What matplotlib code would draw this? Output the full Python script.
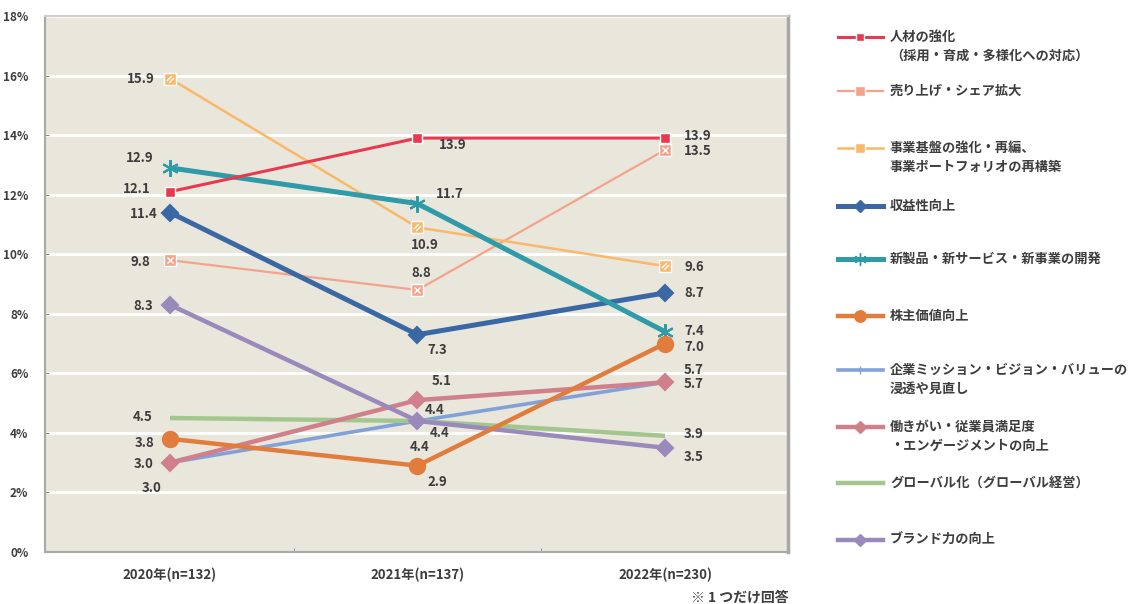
import matplotlib
matplotlib.use("Agg")
import matplotlib.pyplot as plt
from matplotlib.lines import Line2D
from matplotlib.path import Path

plt.rcParams['font.family'] = ['Noto Sans CJK JP', 'DejaVu Sans']

# ---------------- data ----------------
years = ['2020年(n=132)', '2021年(n=137)', '2022年(n=230)']
yticks = [0, 2, 4, 6, 8, 10, 12, 14, 16, 18]

names = [
    ['人材の強化', '（採用・育成・多様化への対応）'],
    ['売り上げ・シェア拡大'],
    ['事業基盤の強化・再編、', '事業ポートフォリオの再構築'],
    ['収益性向上'],
    ['新製品・新サービス・新事業の開発'],
    ['株主価値向上'],
    ['企業ミッション・ビジョン・バリューの', '浸透や見直し'],
    ['働きがい・従業員満足度', '・エンゲージメントの向上'],
    ['グローバル化（グローバル経営）'],
    ['ブランド力の向上'],
]
jinzai = [12.1, 13.9, 13.9]
uriage = [9.8, 8.8, 13.5]
kiban = [15.9, 10.9, 9.6]
shueki = [11.4, 7.3, 8.7]
shinseihin = [12.9, 11.7, 7.4]
kabunushi = [3.8, 2.9, 7.0]
mission = [3.0, 4.4, 5.7]
hatarakigai = [3.0, 5.1, 5.7]
global_ = [4.5, 4.4, 3.9]
brand = [8.3, 4.4, 3.5]
values = [jinzai, uriage, kiban, shueki, shinseihin, kabunushi,
          mission, hatarakigai, global_, brand]

# ---------------- styles ----------------
stripes = Path([(-1, -0.4), (0.4, 1), (-0.4, -1), (1, 0.4)],
               [Path.MOVETO, Path.LINETO, Path.MOVETO, Path.LINETO])
styles = [
    dict(color='#e8394e', lw=2.2, marker='s', ms=7, z=6, overlay=None),
    dict(color='#f4a38c', lw=1.6, marker='s', ms=9, z=4, overlay='x'),
    dict(color='#f9b86a', lw=1.8, marker='s', ms=9, z=4, overlay=stripes),
    dict(color='#3a68a4', lw=3.6, marker='D', ms=8, z=5, overlay=None),
    dict(color='#2f9aa8', lw=3.6, marker=(6, 2, 0), ms=12, z=5, overlay=None),
    dict(color='#e27c3c', lw=3.2, marker='o', ms=11, z=5, overlay=None),
    dict(color='#82a1d8', lw=2.6, marker='|', ms=7, z=3, overlay=None),
    dict(color='#cf808b', lw=3.2, marker='D', ms=8, z=4, overlay=None),
    dict(color='#a3c68e', lw=3.2, marker=None, ms=0, z=3, overlay=None),
    dict(color='#9a89bb', lw=3.2, marker='D', ms=8, z=4, overlay=None),
]

# label offsets in pixels (dx, dy) for each point, dy positive = up
offsets = [
    [(-33, 3), (35, -7), (33, 2)],
    [(-30, -2), (4, 17), (33, -1)],
    [(-29, 0), (7, -18), (29, -1)],
    [(-26, -1), (20, -15), (29, 0)],
    [(-30, 10), (32, 10), (29, 1)],
    [(-25, -4), (20, -16), (29, -3)],
    [(-18, -25), (17, 11), (29, -2)],
    [(-26, -1), (24, 19), (29, 12)],
    [(-27, 1), (2, -26), (29, 2)],
    [(-27, -1), (22, -12), (29, -9)],
]

W, H = 1129, 604
fig = plt.figure(figsize=(W / 100, H / 100), dpi=100)
ax = fig.add_axes([45 / W, (H - 552) / H, 743 / W, 536 / H])
ax.set_facecolor('#e9e6dc')

x = list(range(len(years)))
textc = '#3d3d3d'
for vals, st, offs in zip(values, styles, offsets):
    ax.plot(x, vals, color=st['color'], lw=st['lw'], marker=st['marker'],
            ms=st['ms'], mec=('white' if st['marker'] == 's' else st['color']),
            mew=(1.0 if st['marker'] == 's' else 1.5), zorder=st['z'],
            solid_capstyle='butt')
    if st['overlay'] is not None:
        ax.plot(x, vals, ls='none', marker=st['overlay'], ms=st['ms'] * 0.55,
                mec='white', mfc='none', mew=1.0, zorder=st['z'] + 0.1)
    for xi, v, (dx, dy) in zip(x, vals, offs):
        ax.annotate(f'{v:.1f}', (xi, v), xytext=(dx, dy),
                    textcoords='offset pixels', ha='center', va='center',
                    fontsize=9.5, color=textc, fontweight='bold', zorder=10)

ax.set_xlim(-0.505, 2.497)
ax.set_ylim(0, 18)
ax.set_yticks(yticks)
ax.set_yticklabels([f'{t}%' for t in yticks])
ax.set_xticks(x)
ax.set_xticklabels(years)
ax.set_xticks([0.5, 1.5], minor=True)
ax.tick_params(axis='y', length=3, direction='in', colors='#888888',
               labelcolor=textc, labelsize=8.5, pad=12)
ax.tick_params(axis='x', which='major', length=0, labelcolor=textc,
               labelsize=9.5, pad=11)
ax.tick_params(axis='x', which='minor', length=3, direction='in',
               colors='#888888')
for lab in ax.get_yticklabels() + ax.get_xticklabels():
    lab.set_fontweight('bold')
ax.grid(axis='y', color='white', lw=2)
ax.set_axisbelow(True)
for s in ax.spines.values():
    s.set_color('#a8a8a8')
    s.set_linewidth(1.5)
ax.spines['right'].set_linewidth(2.5)
ax.spines['top'].set_color('#cfcfcf')

# ---------------- legend (manual) ----------------
ys = [37, 91, 148, 206, 259, 316, 370, 427, 483, 540]
for nm, st, y in zip(names, styles, ys):
    fy = (H - y) / H
    fig.add_artist(Line2D([838 / W, 883 / W], [fy, fy], color=st['color'],
                          lw=st['lw'], transform=fig.transFigure))
    if st['marker'] is not None:
        ms = st['ms'] * 0.75
        fig.add_artist(Line2D([860 / W], [fy], marker=st['marker'], ms=ms,
                              color=st['color'],
                              mec=('white' if st['marker'] == 's' else st['color']),
                              mew=1.0, transform=fig.transFigure))
    for i, line in enumerate(nm):
        fig.text(890 / W, (H - y - 19 * i) / H, line, ha='left', va='center',
                 fontsize=9.5, color=textc, fontweight='bold')

fig.text(740 / W, (H - 591) / H, '※ 1 つだけ回答', ha='center', va='top',
         fontsize=10, color=textc, fontweight='bold')

fig.savefig('out.png', dpi=100)
